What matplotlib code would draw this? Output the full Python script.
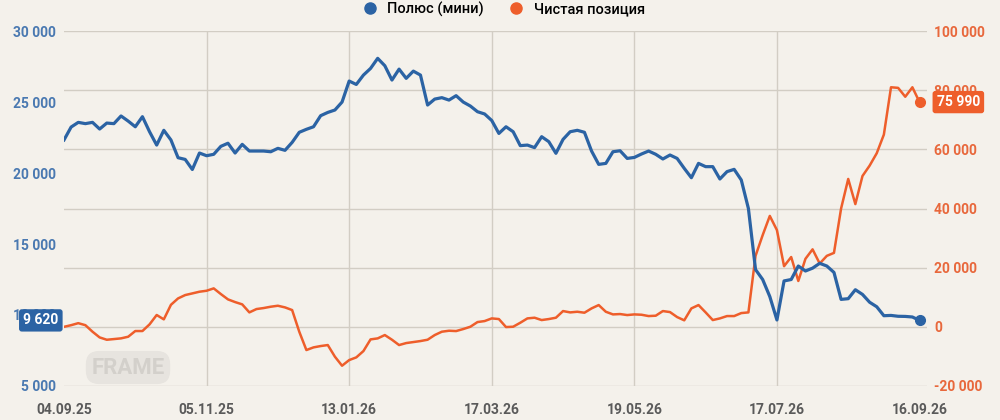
import matplotlib
matplotlib.use("Agg")
import matplotlib.pyplot as plt
from matplotlib.lines import Line2D

plt.rcParams['font.family'] = ['Roboto', 'DejaVu Sans']

# tick dates (equally spaced on the chart, every 20 points)
date_labels = ['04.09.25', '05.11.25', '13.01.26', '17.03.26', '19.05.26', '17.07.26', '16.09.26']

# Полюс (мини), left axis
polyus = [
    22330, 23240, 23570, 23480, 23570, 23100, 23520, 23480, 24020, 23660, 23260,
    23970, 22910, 21970, 23010, 22330, 21080, 20960, 20250, 21410, 21220,
    21320, 21880, 22100, 21410, 22020, 21550, 21550, 21550, 21500, 21740,
    21600, 22160, 22870, 23080, 23260, 24040, 24270, 24440, 25000, 26480,
    26240, 26900, 27370, 28080, 27560, 26550, 27320, 26670, 27180, 26900,
    24790, 25210, 25310, 25140, 25450, 25000, 24720, 24320, 24160, 23700,
    22790, 23260, 22910, 21930, 21970, 21790, 22560, 22210, 21390, 22370,
    22910, 23010, 22870, 21550, 20610, 20680, 21500, 21570, 21030, 21100,
    21340, 21550, 21320, 20990, 21270, 21030, 20330, 19670, 20680, 20450,
    20450, 19580, 20100, 20260, 19510, 17500, 13200, 12500, 11300, 9650,
    12400, 12500, 13450, 13100, 13300, 13640, 13450, 13000, 11100, 11150,
    11780, 11450, 10900, 10580, 9950, 9970, 9910, 9900, 9860, 9620,
]

# Чистая позиция, right axis
net_pos = [
    0, 560, 1240, 560, -1650, -3580, -4370, -4140, -3900, -3350, -1420,
    -1420, 830, 4000, 2520, 7450, 9610, 10740, 11300, 11870, 12200,
    13000, 11080, 9280, 8370, 7590, 4880, 6010, 6350, 6800, 7130,
    6570, 5670, -1650, -7850, -6950, -6500, -6160, -10100, -13150, -11240,
    -10330, -8190, -4250, -3910, -2780, -4360, -6160, -5490, -5150, -4810,
    -4360, -2780, -1650, -1320, -1430, -750, 30, 1610, 1950, 2850,
    2630, -80, 35, 1380, 2850, 3080, 2290, 2630, 3080, 5330,
    4880, 5100, 4770, 6230, 7360, 5100, 4200, 4320, 3980, 4200,
    4090, 3640, 3760, 5330, 4990, 3300, 2200, 6230, 7360, 4880,
    2290, 2850, 3640, 3640, 4650, 4880, 24000, 31000, 37500, 32700,
    20500, 23600, 15500, 23000, 26200, 21400, 24000, 25000, 40000, 50000,
    41500, 51000, 54500, 58700, 65000, 81000, 80800, 77800, 81000, 75990,
]

left_ticks = [5000, 10000, 15000, 20000, 25000, 30000]
right_ticks = [-20000, 0, 20000, 40000, 60000, 80000, 100000]

bg = '#f4f1eb'
blue = '#2b63a4'
orange = '#ee5e2b'
grid_c = '#d2cdc4'

def fmt(v):
    return f"{v:,}".replace(',', ' ')

x = list(range(len(polyus)))
tick_pos = list(range(0, len(polyus), 20))

fig = plt.figure(figsize=(10, 4.2), dpi=100, facecolor=bg)
ax = fig.add_axes([0.064, 0.081, 0.863, 0.845])
ax2 = ax.twinx()

# orange axis behind, blue axis on top
ax2.set_zorder(1)
ax.set_zorder(2)
ax.patch.set_visible(False)
ax2.patch.set_facecolor(bg)

for t in right_ticks:
    ax2.axhline(t, color=grid_c, lw=1, zorder=0)
for t in tick_pos[1:-1]:
    ax2.axvline(t, color=grid_c, lw=1, zorder=0)

ax2.plot(x, net_pos, color=orange, lw=1.8, solid_joinstyle='round', zorder=3)
ax2.plot(x[-1], net_pos[-1], 'o', color=orange, ms=7, zorder=4)
ax.plot(x, polyus, color=blue, lw=2.3, solid_joinstyle='round', zorder=3)
ax.plot(x[-1], polyus[-1], 'o', color=blue, ms=7, zorder=4)

ax.set_xlim(0, len(polyus) - 1 + 1.05)
ax.set_ylim(5000, 30000)
ax2.set_ylim(-20000, 100000)

ax.set_xticks(tick_pos)
ax.set_xticklabels(date_labels, fontsize=10, fontweight='bold', color='#5a5a5a')
ax.set_yticks(left_ticks)
ax.set_yticklabels([fmt(t) for t in left_ticks], fontsize=10, fontweight='bold', color='#4a79b1')
ax2.set_yticks(right_ticks)
ax2.set_yticklabels([fmt(t) for t in right_ticks], fontsize=10, fontweight='bold', color='#e8683c')
ax.tick_params(axis='x', length=0, pad=12)
ax.tick_params(axis='y', length=0, pad=6)
ax2.tick_params(axis='y', length=0, pad=5)

for a in (ax, ax2):
    for s in a.spines.values():
        s.set_visible(False)

# last value labels
ax.annotate(fmt(polyus[-1]), xy=(0, polyus[-1]), xytext=(-4, 0), textcoords='offset points',
            ha='right', va='center', fontsize=10, fontweight='bold', color='white',
            bbox=dict(boxstyle='round,pad=0.3,rounding_size=0.2', fc=blue, ec='none'),
            annotation_clip=False, zorder=10)
ax2.annotate(fmt(net_pos[-1]), xy=(ax.get_xlim()[1], net_pos[-1]), xytext=(7, 0),
             textcoords='offset points', ha='left', va='center', fontsize=10,
             fontweight='bold', color='white',
             bbox=dict(boxstyle='round,pad=0.3,rounding_size=0.2', fc=orange, ec='none'),
             annotation_clip=False, zorder=10)

# blurred logo
fig.text(0.128, 0.125, 'FRAME', fontsize=16, fontweight='bold', color='#d3d0cb',
         ha='center', va='center',
         bbox=dict(boxstyle='round,pad=0.25,rounding_size=0.6', fc='#e7e4df', ec='none'))

handles = [
    Line2D([], [], marker='o', ls='none', color=blue, ms=8),
    Line2D([], [], marker='o', ls='none', color=orange, ms=8),
]
fig.legend(handles, ['Полюс (мини)', 'Чистая позиция'], loc='center',
           bbox_to_anchor=(0.5, 0.978), ncol=2, frameon=False, borderpad=0,
           handletextpad=0.2, columnspacing=1.2, prop={'weight': 'medium', 'size': 10.5})

fig.savefig('out.png', dpi=100, facecolor=bg)
